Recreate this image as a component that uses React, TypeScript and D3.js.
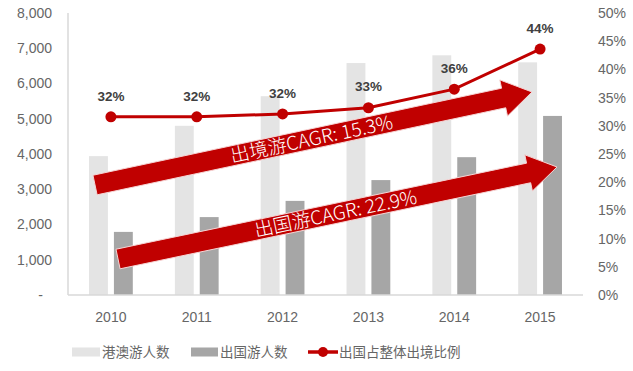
import React from "react";
import * as d3 from "d3";

const years = ["2010", "2011", "2012", "2013", "2014", "2015"];
const hkMacau = [3940, 4800, 5640, 6580, 6800, 6600];
const abroad = [1790, 2210, 2670, 3260, 3910, 5080];
const share = [0.316, 0.316, 0.321, 0.332, 0.365, 0.436];
const shareLabels = ["32%", "32%", "32%", "33%", "36%", "44%"];
const leftTicks = [0, 1000, 2000, 3000, 4000, 5000, 6000, 7000, 8000];
const rightTicks = [0, 0.05, 0.1, 0.15, 0.2, 0.25, 0.3, 0.35, 0.4, 0.45, 0.5];
const legendNames = ["港澳游人数", "出国游人数", "出国占整体出境比例"];
// annotation arrows: anchors in data space (category index, left-axis value)
const arrows = [
  { from: [-0.185, 3120], to: [4.906, 5760], label: "出境游CAGR: 15.3%" },
  { from: [0.083, 1021], to: [5.197, 3631], label: "出国游CAGR: 22.9%" },
];

const W = 633;
const H = 371;
const RED = "#C00000";
const LIGHT = "#E4E4E4";
const DARK = "#A6A6A6";
const AXIS = "#D9D9D9";
const TXT = "#666666";

export default function App() {
  const left = 68;
  const right = 583;
  const top = 13;
  const bottom = 295;
  const x = d3.scaleBand<string>().domain(years).range([left, right]).padding(0);
  const bw = x.bandwidth();
  const xf = (f: number) => left + bw * (f + 0.5);
  const yL = d3.scaleLinear().domain([0, 8000]).range([bottom, top]);
  const yR = d3.scaleLinear().domain([0, 0.5]).range([bottom, top]);
  const barW = bw * 0.22;
  const gap = bw * 0.035;
  const fmt = d3.format(",");
  const pct = d3.format(".0%");

  const line = d3
    .line<number>()
    .x((_, i) => (x(years[i]) as number) + bw / 2)
    .y((d) => yR(d));

  const arrowPath = (a: typeof arrows[number]) => {
    const x0 = xf(a.from[0]);
    const y0 = yL(a.from[1]);
    const x1 = xf(a.to[0]);
    const y1 = yL(a.to[1]);
    const dx = x1 - x0;
    const dy = y1 - y0;
    const L = Math.hypot(dx, dy);
    const ux = dx / L;
    const uy = dy / L;
    const nx = -uy;
    const ny = ux;
    const sw = 10;
    const hw = 18.5;
    const hl = 29;
    const bx = x1 - ux * hl;
    const by = y1 - uy * hl;
    const pts = [
      [x0 + nx * sw, y0 + ny * sw],
      [bx + nx * sw, by + ny * sw],
      [bx + nx * hw, by + ny * hw],
      [x1, y1],
      [bx - nx * hw, by - ny * hw],
      [bx - nx * sw, by - ny * sw],
      [x0 - nx * sw, y0 - ny * sw],
    ];
    const ang = (Math.atan2(dy, dx) * 180) / Math.PI;
    const cx = x0 + dx * 0.5 - ux * 2;
    const cy = y0 + dy * 0.5 - uy * 2;
    return { d: "M" + pts.map((p) => p.join(",")).join("L") + "Z", ang, cx, cy };
  };

  const font = "'Liberation Sans', Arial, sans-serif";
  const cjk = "'Noto Sans CJK SC', 'Noto Sans', sans-serif";

  return (
    <svg
      width={W}
      height={H}
      style={{ position: "absolute", left: 0, top: 0, background: "#fff" }}
      fontFamily={font}
    >
      <rect width={W} height={H} fill="#fff" />
      {/* left tick labels */}
      {leftTicks.map((t) => (
        <text
          key={"l" + t}
          x={t === 0 ? 43 : 52}
          y={yL(t)}
          dy="0.35em"
          textAnchor="end"
          fontSize={14}
          fill={TXT}
        >
          {t === 0 ? "-" : fmt(t)}
        </text>
      ))}
      {/* right tick labels */}
      {rightTicks.map((t) => (
        <text
          key={"r" + t}
          x={598}
          y={yR(t)}
          dy="0.35em"
          textAnchor="start"
          fontSize={14}
          fill={TXT}
        >
          {pct(t)}
        </text>
      ))}
      {/* bars */}
      {years.map((yr, i) => {
        const c = (x(yr) as number) + bw / 2;
        return (
          <g key={yr}>
            <rect
              x={c - gap - barW}
              y={yL(hkMacau[i])}
              width={barW}
              height={bottom - yL(hkMacau[i])}
              fill={LIGHT}
            />
            <rect
              x={c + gap}
              y={yL(abroad[i])}
              width={barW}
              height={bottom - yL(abroad[i])}
              fill={DARK}
            />
            <text
              x={c}
              y={317}
              dy="0.35em"
              textAnchor="middle"
              fontSize={14}
              fill={TXT}
            >
              {yr}
            </text>
          </g>
        );
      })}
      {/* axes */}
      <line x1={left} x2={left} y1={top} y2={bottom} stroke={AXIS} strokeWidth={1.5} />
      <line x1={left} x2={right} y1={bottom} y2={bottom} stroke={AXIS} strokeWidth={1.5} />
      {/* arrows */}
      {arrows.map((a) => {
        const g = arrowPath(a);
        return (
          <g key={a.label}>
            <path d={g.d} fill={RED} stroke="#F6D4D4" strokeWidth={1} strokeLinejoin="miter" />
            <text
              transform={`translate(${g.cx},${g.cy}) rotate(${g.ang})`}
              textAnchor="middle"
              dy="0.36em"
              fontSize={19}
              fontWeight={300}
              fontFamily={cjk}
              fill="#fff"
            >
              {a.label}
            </text>
          </g>
        );
      })}
      {/* line */}
      <path d={line(share) as string} fill="none" stroke={RED} strokeWidth={3} />
      {share.map((v, i) => {
        const c = (x(years[i]) as number) + bw / 2;
        return (
          <g key={"p" + i}>
            <circle cx={c} cy={yR(v)} r={5.5} fill={RED} />
            <text
              x={c}
              y={yR(v) - 21}
              dy="0.35em"
              textAnchor="middle"
              fontSize={13.5}
              fontWeight="bold"
              fill="#404040"
            >
              {shareLabels[i]}
            </text>
          </g>
        );
      })}
      {/* legend */}
      <g fontFamily={cjk} fontSize={13.5} fill={TXT}>
        <rect x={72} y={347.5} width={28} height={9} fill={LIGHT} />
        <text x={102} y={352} dy="0.35em">{legendNames[0]}</text>
        <rect x={191} y={347.5} width={27} height={9} fill={DARK} />
        <text x={220} y={352} dy="0.35em">{legendNames[1]}</text>
        <line x1={308} x2={338} y1={352} y2={352} stroke={RED} strokeWidth={3.5} />
        <circle cx={323} cy={352} r={5} fill={RED} />
        <text x={339} y={352} dy="0.35em">{legendNames[2]}</text>
      </g>
    </svg>
  );
}
